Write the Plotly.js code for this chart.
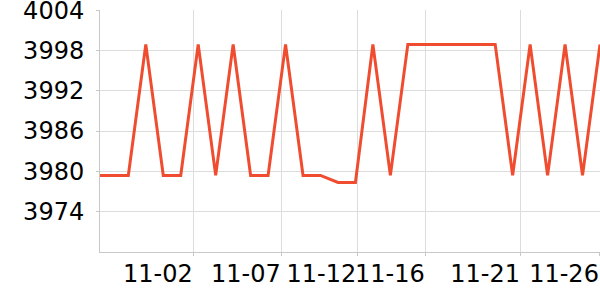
<!DOCTYPE html>
<html>
<head>
<meta charset="utf-8">
<script src="https://cdn.plot.ly/plotly-3.0.1.min.js"></script>
<style>
html,body{margin:0;padding:0;background:#fff;}
#chart{width:600px;height:300px;}
</style>
</head>
<body>
<div id="chart"></div>
<script>
// point index along the x axis
var pointIndex = [0,1,2,3,4,5,6,7,8,9,10,11,12,13,14,15,16,17,18,19,20,21,22,23,24,25,26,27,28,29];
// series values
var values = [3979.4,3979.4,3979.4,3998.9,3979.4,3979.4,3998.9,3979.4,3998.9,3979.4,
              3979.4,3998.9,3979.4,3979.4,3978.35,3978.35,3998.9,3979.4,3998.9,3998.9,
              3998.9,3998.9,3998.9,3998.9,3979.4,3998.9,3979.4,3998.9,3979.4,3998.9];
// x tick labels and where they sit on the index scale
var tickLabels = ["11-02","11-07","11-12","11-16","11-21","11-26"];
var tickPositions = [5.741,10.779,15.106,19.021,24.476,28.995];
var yTicks = [3974,3980,3986,3992,3998,4004];

var trace = {
  x: pointIndex,
  y: values,
  type: 'scatter',
  mode: 'lines',
  line: {color: '#f04c30', width: 3},
  hoverinfo: 'none'
};

var layout = {
  width: 600,
  height: 300,
  margin: {l: 100, r: 0, t: 10, b: 48, pad: 0},
  paper_bgcolor: '#fff',
  plot_bgcolor: '#fff',
  showlegend: false,
  font: {family: 'DejaVu Sans', size: 24, color: '#000'},
  xaxis: {
    type: 'linear',
    range: [0.378, 29.0],
    tickmode: 'array',
    tickvals: tickPositions,
    ticktext: tickLabels,
    tickangle: 0,
    ticklabelposition: 'outside left',
    ticklabeloverflow: 'allow',
    showgrid: true,
    gridcolor: '#dcdcdc',
    gridwidth: 1,
    zeroline: false,
    showline: true,
    linecolor: '#c8c8c8',
    linewidth: 1,
    ticks: 'outside',
    ticklen: 3,
    tickcolor: '#c8c8c8',
    automargin: false,
    fixedrange: true
  },
  yaxis: {
    range: [3968, 4004.02],
    tickmode: 'array',
    tickvals: yTicks,
    ticktext: yTicks.map(String),
    ticklabeloverflow: 'allow',
    ticklabelstandoff: 7,
    showgrid: true,
    gridcolor: '#dcdcdc',
    gridwidth: 1,
    zeroline: false,
    showline: true,
    linecolor: '#c8c8c8',
    linewidth: 1,
    ticks: 'outside',
    ticklen: 3,
    tickcolor: '#c8c8c8',
    automargin: false,
    fixedrange: true
  }
};

Plotly.newPlot('chart', [trace], layout, {displayModeBar: false, staticPlot: true});
</script>
</body>
</html>
